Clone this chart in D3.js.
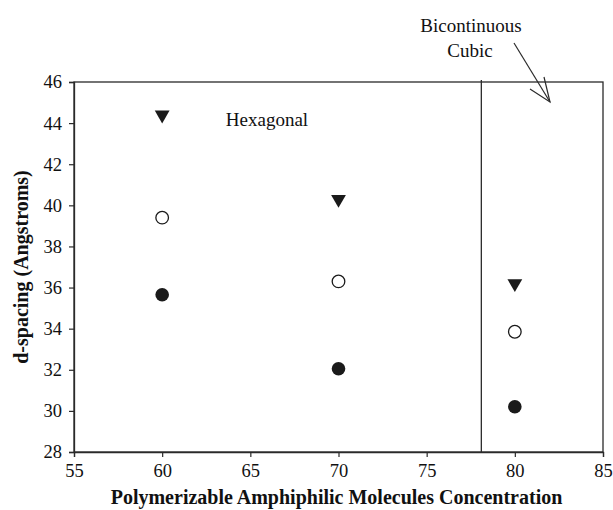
<!DOCTYPE html>
<html>
<head>
<meta charset="utf-8">
<script src="https://cdn.jsdelivr.net/npm/d3@7"></script>
<style>
  body { margin: 0; background: #fff; }
  svg text { font-family: "Liberation Serif", "Times New Roman", serif; fill: #111; }
</style>
</head>
<body>
<div id="chart"></div>
<script>
  // concentrations
  var conc = [60, 70, 80];
  // d-spacing series
  var triangles = [44.4, 40.3, 36.2];
  var openCircles = [39.4, 36.3, 33.85];
  var filledCircles = [35.65, 32.05, 30.2];
  var xTicks = [55, 60, 65, 70, 75, 80, 85];
  var yTicks = [28, 30, 32, 34, 36, 38, 40, 42, 44, 46];
  var phaseBoundary = 78.1;

  var width = 613, height = 510;
  var margin = { top: 82, right: 10, bottom: 58, left: 74 };

  var svg = d3.select('#chart').append('svg')
    .attr('width', width)
    .attr('height', height);

  var x = d3.scaleLinear().domain([55, 85]).range([margin.left, width - margin.right]);
  var y = d3.scaleLinear().domain([28, 46]).range([height - margin.bottom, margin.top]);

  var ink = '#2a2a2a';

  // frame
  svg.append('rect')
    .attr('x', x(55)).attr('y', y(46))
    .attr('width', x(85) - x(55)).attr('height', y(28) - y(46))
    .attr('fill', 'none').attr('stroke', ink).attr('stroke-width', 1.3);

  var xAxis = svg.append('g')
    .attr('transform', `translate(0,${y(28)})`)
    .call(d3.axisBottom(x).tickValues(xTicks).tickSize(5).tickPadding(7).tickFormat(d3.format('d')));
  var yAxis = svg.append('g')
    .attr('transform', `translate(${x(55)},0)`)
    .call(d3.axisLeft(y).tickValues(yTicks).tickSize(5).tickPadding(7).tickFormat(d3.format('d')));

  [xAxis, yAxis].forEach(g => {
    g.select('.domain').attr('stroke', ink).attr('stroke-width', 1.3);
    g.selectAll('.tick line').attr('stroke', ink).attr('stroke-width', 1.2);
    g.selectAll('.tick text')
      .style('font-family', '"Liberation Serif", serif')
      .style('font-size', '18.5px')
      .attr('fill', '#111');
  });

  // phase boundary
  svg.append('line')
    .attr('x1', x(phaseBoundary)).attr('x2', x(phaseBoundary))
    .attr('y1', y(46) - 2).attr('y2', y(28))
    .attr('stroke', ink).attr('stroke-width', 1.3);

  // markers
  var tri = d3.symbol().type(d3.symbolTriangle).size(95);
  svg.append('g').selectAll('path')
    .data(conc.map((c, i) => [c, triangles[i]]))
    .join('path')
    .attr('d', tri)
    .attr('transform', d => `translate(${x(d[0])},${y(d[1])}) rotate(180)`)
    .attr('fill', '#1a1a1a');

  svg.append('g').selectAll('circle')
    .data(conc.map((c, i) => [c, openCircles[i]]))
    .join('circle')
    .attr('cx', d => x(d[0])).attr('cy', d => y(d[1]))
    .attr('r', 6.3)
    .attr('fill', '#fff').attr('stroke', '#1a1a1a').attr('stroke-width', 1.3);

  svg.append('g').selectAll('circle')
    .data(conc.map((c, i) => [c, filledCircles[i]]))
    .join('circle')
    .attr('cx', d => x(d[0])).attr('cy', d => y(d[1]))
    .attr('r', 6.8)
    .attr('fill', '#1a1a1a');

  // annotations
  svg.append('text')
    .attr('x', 267).attr('y', 126)
    .attr('text-anchor', 'middle')
    .style('font-size', '19px')
    .text('Hexagonal');

  svg.append('text')
    .attr('x', 471).attr('y', 32)
    .attr('text-anchor', 'middle')
    .style('font-size', '19px')
    .text('Bicontinuous');
  svg.append('text')
    .attr('x', 470).attr('y', 57)
    .attr('text-anchor', 'middle')
    .style('font-size', '19px')
    .text('Cubic');

  // arrow pointing into cubic region
  var tip = [550, 102];
  svg.append('line')
    .attr('x1', 514).attr('y1', 43).attr('x2', tip[0]).attr('y2', tip[1])
    .attr('stroke', ink).attr('stroke-width', 1.2);
  svg.append('polyline')
    .attr('points', `530,89 ${tip[0]},${tip[1]} 544,77`)
    .attr('fill', 'none').attr('stroke', ink).attr('stroke-width', 1.2);

  // axis titles
  svg.append('text')
    .attr('x', (x(55) + x(85)) / 2 - 2).attr('y', 504)
    .attr('text-anchor', 'middle')
    .style('font-size', '20px').style('font-weight', 'bold')
    .text('Polymerizable Amphiphilic Molecules Concentration');

  svg.append('text')
    .attr('transform', `translate(28,${(y(28) + y(46)) / 2}) rotate(-90)`)
    .attr('text-anchor', 'middle')
    .style('font-size', '20px').style('font-weight', 'bold')
    .text('d-spacing (Angstroms)');
</script>
</body>
</html>
